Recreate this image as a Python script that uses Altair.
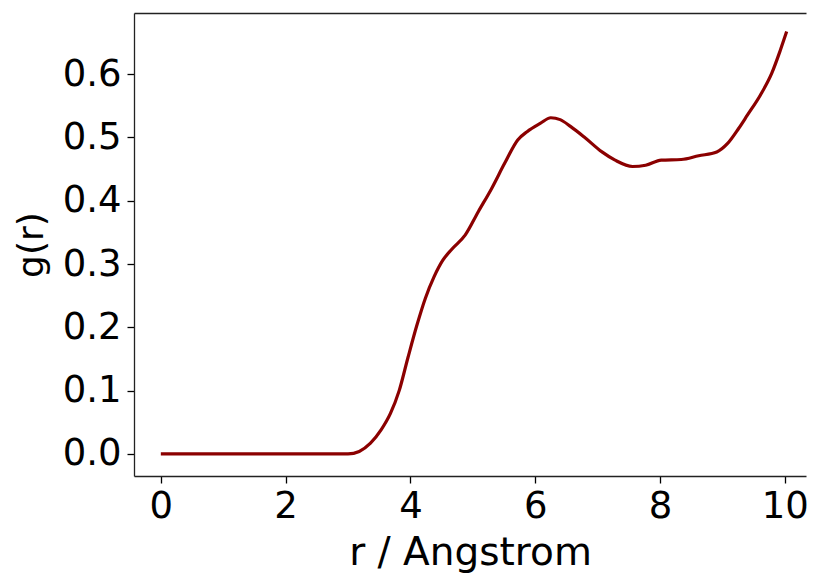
import altair as alt
import pandas as pd

r_vals = [0.0, 0.5, 1.0, 1.5, 2.0, 2.5, 3.0, 3.18, 3.36, 3.53, 3.68, 3.82, 3.96, 4.10,
          4.24, 4.38, 4.52, 4.66, 4.88, 5.09, 5.30, 5.51, 5.72, 5.87, 6.08, 6.25, 6.40,
          6.57, 6.78, 7.07, 7.28, 7.56, 7.77, 8.02, 8.34, 8.62, 8.91, 9.08, 9.26, 9.40,
          9.61, 9.79, 9.93, 10.03]
g_vals = [0.0, 0.0, 0.0, 0.0, 0.0, 0.0, 0.0, 0.004, 0.017, 0.038, 0.064, 0.100, 0.152,
          0.202, 0.246, 0.280, 0.306, 0.323, 0.346, 0.383, 0.419, 0.459, 0.496, 0.509,
          0.522, 0.531, 0.528, 0.517, 0.501, 0.477, 0.464, 0.454, 0.456, 0.464, 0.465,
          0.471, 0.477, 0.490, 0.514, 0.535, 0.567, 0.601, 0.638, 0.667]
x_ticks = [0, 2, 4, 6, 8, 10]
y_ticks = [0.0, 0.1, 0.2, 0.3, 0.4, 0.5, 0.6]

df = pd.DataFrame({"r": r_vals, "g": g_vals})

FONT = "DejaVu Sans"
x_scale = alt.Scale(domain=[-0.43, 10.34], nice=False, zero=False)
y_scale = alt.Scale(domain=[-0.0348, 0.6964], nice=False, zero=False)

line = alt.Chart(df).mark_line(color="#8b0000", strokeWidth=3.2, interpolate="monotone").encode(
    x=alt.X("r:Q", scale=x_scale,
            axis=alt.Axis(values=x_ticks, title="r / Angstrom", grid=False,
                          labelFont=FONT, labelFontSize=37, titleFont=FONT,
                          titleFontSize=39, titleFontWeight="normal", labelColor="black",
                          titleColor="black", tickColor="black", tickSize=7, tickWidth=1.3,
                          domainColor="#222", domainWidth=1.3, labelPadding=5,
                          titlePadding=9, labelFlush=False)),
    y=alt.Y("g:Q", scale=y_scale,
            axis=alt.Axis(values=y_ticks, format=".1f", title="g(r)", grid=False,
                          labelFont=FONT, labelFontSize=37, titleFont=FONT,
                          titleFontSize=36, titleFontWeight="normal", labelColor="black",
                          titleColor="black", tickColor="black", tickSize=7, tickWidth=1.3,
                          domainColor="#222", domainWidth=1.3, labelPadding=6,
                          titlePadding=12, labelFlush=False)),
)

top = alt.Chart(df).mark_line(opacity=0).encode(
    x=alt.X("r:Q", scale=x_scale,
            axis=alt.Axis(orient="top", labels=False, ticks=False, title=None, grid=False,
                          domainColor="#222", domainWidth=1.3)),
    y=alt.Y("g:Q", scale=y_scale),
)

chart = alt.layer(line, top).resolve_axis(x="independent").properties(
    width=672, height=463,
    autosize=alt.AutoSizeParams(type="none"),
    padding={"left": 126, "top": 5, "right": 3, "bottom": 100},
).configure_view(stroke=None)

chart.save("out.html", embed_options={"renderer": "svg", "actions": False})
